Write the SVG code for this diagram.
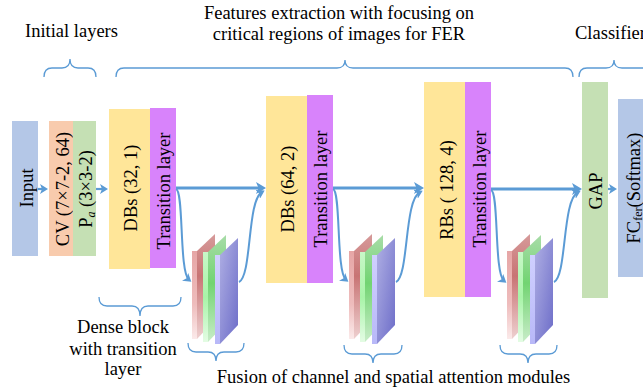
<svg xmlns="http://www.w3.org/2000/svg" width="643" height="390" viewBox="0 0 643 390">
<style>
.t{font-family:"Liberation Serif","Times New Roman",serif;font-size:18.5px;fill:#000}
.vt{font-family:"Liberation Serif","Times New Roman",serif;font-size:18.5px;fill:#000;text-anchor:middle}
.br{fill:none;stroke:#5b9bd5;stroke-width:1.3}
.main{fill:none;stroke:#5b9bd5;stroke-width:3}
.cur{fill:none;stroke:#5b9bd5;stroke-width:2}
.sm{fill:none;stroke:#5b9bd5;stroke-width:2.2}
</style>
<defs>
<marker id="ah" markerUnits="userSpaceOnUse" markerWidth="12" markerHeight="12" refX="6" refY="6" orient="auto">
<path d="M0,0 L10,6 L0,12 L2.5,6 Z" fill="#5b9bd5"/>
</marker>
<marker id="ahs" markerUnits="userSpaceOnUse" markerWidth="10" markerHeight="10" refX="5" refY="5" orient="auto">
<path d="M0,0 L8,5 L0,10 L2,5 Z" fill="#5b9bd5"/>
</marker>
<linearGradient id="rf" x1="0" y1="0" x2="0" y2="1"><stop offset="0" stop-color="#e6a6a6"/><stop offset="0.6" stop-color="#eebcbc"/><stop offset="1" stop-color="#fbeaea"/></linearGradient>
<linearGradient id="rs" x1="0" y1="0" x2="0" y2="1"><stop offset="0" stop-color="#d69a9a"/><stop offset="0.4" stop-color="#c87474"/><stop offset="1" stop-color="#eed0d0"/></linearGradient>
<linearGradient id="gf" x1="0" y1="0" x2="0" y2="1"><stop offset="0" stop-color="#c8f8c8"/><stop offset="0.5" stop-color="#a8f4a8"/><stop offset="1" stop-color="#e4fce4"/></linearGradient>
<linearGradient id="gs" x1="0" y1="0" x2="0" y2="1"><stop offset="0" stop-color="#a8dca8"/><stop offset="0.45" stop-color="#72d472"/><stop offset="1" stop-color="#c8ecc8"/></linearGradient>
<linearGradient id="bf" x1="0" y1="0" x2="0" y2="1"><stop offset="0" stop-color="#d0d0ff"/><stop offset="1" stop-color="#b8b8f8"/></linearGradient>
<linearGradient id="bs" x1="0" y1="0" x2="1" y2="1"><stop offset="0" stop-color="#b0b0e4"/><stop offset="1" stop-color="#6c6cc8"/></linearGradient>
<g id="att">
<polygon points="192,251 197,251 197,339 192,339" fill="url(#rf)"/>
<polygon points="197,251 215,234 215,320 197,339" fill="url(#rs)"/>
<polygon points="203,252 208,252 208,342 203,342" fill="url(#gf)"/>
<polygon points="208,252 226,235 226,323 208,342" fill="url(#gs)"/>
<polygon points="215,255 220,255 220,344 215,344" fill="url(#bf)"/>
<polygon points="220,255 238,238 238,325 220,344" fill="url(#bs)"/>
</g>
</defs>

<g id="input"><rect x="12" y="121" width="26" height="135" fill="#b4c7e7"/><text class="vt" transform="translate(33,188) rotate(-90)">Input</text></g>
<g id="cv"><rect x="49" y="121" width="24" height="135" fill="#f8cbad"/><text class="vt" transform="translate(69,189) rotate(-90)">CV (7×7-2, 64)</text></g>
<g id="pool"><rect x="73" y="121" width="23" height="135" fill="#c5e0b4"/><text class="vt" transform="translate(92,189) rotate(-90)">P<tspan font-size="12" font-style="italic" dy="3">a</tspan><tspan dy="-3"> (3×3-2)</tspan></text></g>

<g id="db1"><rect x="109" y="109" width="41" height="160" fill="#ffe699"/><text class="vt" transform="translate(137,188) rotate(-90)">DBs (32, 1)</text></g>
<g id="tl1"><rect x="150" y="108" width="26" height="160" fill="#d883fb"/><text class="vt" transform="translate(170,191) rotate(-90)">Transition layer</text></g>

<g id="db2"><rect x="266" y="96" width="41" height="187" fill="#ffe699"/><text class="vt" transform="translate(294,189) rotate(-90)">DBs (64, 2)</text></g>
<g id="tl2"><rect x="307" y="95" width="26" height="188" fill="#d883fb"/><text class="vt" transform="translate(327,189) rotate(-90)">Transition layer</text></g>

<g id="rb3"><rect x="424" y="82" width="41" height="215" fill="#ffe699"/><text class="vt" transform="translate(453,190) rotate(-90)">RBs ( 128, 4)</text></g>
<g id="tl3"><rect x="465" y="82" width="26" height="215" fill="#d883fb"/><text class="vt" transform="translate(486,189) rotate(-90)">Transition layer</text></g>

<g id="gap"><rect x="582" y="82" width="26" height="216" fill="#c5e0b4"/><text class="vt" transform="translate(602,191) rotate(-90)">GAP</text></g>
<g id="fc"><rect x="618" y="99" width="30" height="178" fill="#b4c7e7"/><text class="vt" transform="translate(640,188) rotate(-90)">FC<tspan font-size="12" dy="2">fer</tspan><tspan dy="-2">(Softmax)</tspan></text></g>

<g id="att1"><use href="#att"/></g>
<g id="att2"><use href="#att" transform="translate(157,0)"/></g>
<g id="att3"><use href="#att" transform="translate(315,0)"/></g>

<g id="connectors">
<path class="sm" d="M38,189 L45,189" marker-end="url(#ahs)"/>
<path class="sm" d="M96,189 L105,189" marker-end="url(#ahs)"/>
<path class="sm" d="M608,189 L614,189" marker-end="url(#ahs)"/>
<path class="main" d="M176,188 L262,188" marker-end="url(#ah)"/>
<path class="main" d="M333,188 L420,188" marker-end="url(#ah)"/>
<path class="main" d="M491,189 L578,189" marker-end="url(#ah)"/>
<path class="cur" d="M176,189 C184,191 179,272 189,280" marker-end="url(#ahs)"/>
<path class="cur" d="M239,282 C252,276 247,200 262,192" marker-end="url(#ahs)"/>
<path class="cur" d="M333,189 C341,191 336,272 346,280" marker-end="url(#ahs)"/>
<path class="cur" d="M396,282 C409,276 404,200 420,192" marker-end="url(#ahs)"/>
<path class="cur" d="M491,190 C499,192 494,273 504,281" marker-end="url(#ahs)"/>
<path class="cur" d="M554,282 C567,276 562,200 578,192" marker-end="url(#ahs)"/>
</g>

<g id="braces">
<path class="br" d="M44,77 Q44,68 52,68 L62,68 Q70,68 70,59 Q70,68 78,68 L88,68 Q96,68 96,77"/>
<path class="br" d="M116,77 Q116,68 124,68 L337,68 Q345,68 345,60 Q345,68 353,68 L565,68 Q573,68 573,77"/>
<path class="br" d="M579,77 Q579,68 587,68 L606,68 Q614,68 614,60 Q614,68 622,68 L660,68"/>
<path class="br" d="M99,297 Q99,306 107,306 L132,306 Q140,306 140,316 Q140,306 148,306 L173,306 Q181,306 181,297"/>
<path class="br" d="M188,343 Q188,352 196,352 L208,352 Q216,352 216,361 Q216,352 224,352 L236,352 Q244,352 244,343"/>
<path class="br" d="M344,345 Q344,354 352,354 L365,354 Q373,354 373,363 Q373,354 381,354 L394,354 Q402,354 402,345"/>
<path class="br" d="M500,345 Q500,354 508,354 L520,354 Q528,354 528,363 Q528,354 536,354 L549,354 Q557,354 557,345"/>
</g>

<g id="labels">
<text class="t" x="71.5" y="37" text-anchor="middle">Initial layers</text>
<text class="t" x="339" y="19" text-anchor="middle">Features extraction with focusing on</text>
<text class="t" x="339" y="40" text-anchor="middle">critical regions of images for FER</text>
<text class="t" x="575" y="38.5">Classifier</text>
<text class="t" x="123" y="333" text-anchor="middle">Dense block</text>
<text class="t" x="123" y="355" text-anchor="middle">with transition</text>
<text class="t" x="123" y="375" text-anchor="middle">layer</text>
<text class="t" x="393.5" y="383" text-anchor="middle">Fusion of channel and spatial attention modules</text>
</g>
</svg>
